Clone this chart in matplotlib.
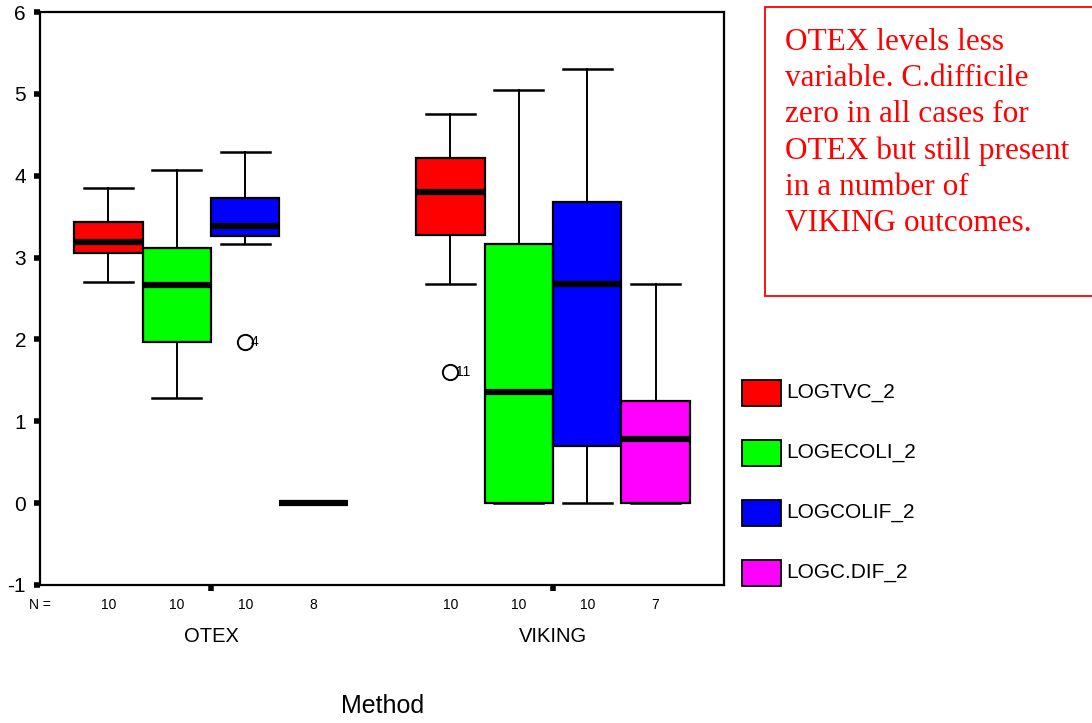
import numpy as np
import matplotlib
matplotlib.use("Agg")
import matplotlib.pyplot as plt
from matplotlib.patches import Rectangle
import matplotlib.transforms as mtransforms

plt.rcParams['font.family'] = ['Liberation Sans', 'DejaVu Sans']
plt.rcParams['axes.unicode_minus'] = False

# data (log counts)
methods = ["OTEX", "VIKING"]
series = ["LOGTVC_2", "LOGECOLI_2", "LOGCOLIF_2", "LOGC.DIF_2"]
colors = ["#ff0000", "#00ff00", "#0000ff", "#ff00ff"]
counts = [10, 10, 10, 8, 10, 10, 10, 7]

whislo = [2.70, 1.29, 3.17, 0.0, 2.68, 0.0, 0.0, 0.0]
q1 = [3.05, 1.97, 3.26, 0.0, 3.27, 0.0, 0.70, 0.0]
med = [3.19, 2.66, 3.38, 0.0, 3.80, 1.36, 2.68, 0.78]
q3 = [3.44, 3.12, 3.73, 0.0, 4.22, 3.17, 3.68, 1.25]
whishi = [3.85, 4.07, 4.29, 0.0, 4.76, 5.05, 5.30, 2.68]
fliers = [[], [], [1.97], [], [1.60], [], [], []]
flier_ids = [[], [], ["4"], [], ["11"], [], [], []]

note = ("OTEX levels less\nvariable. C.difficile\nzero in all cases for\n"
        "OTEX but still present\nin a number of\nVIKING outcomes.")

W, H = 1092, 723
fig = plt.figure(figsize=(W / 100, H / 100), dpi=100)
ax = fig.add_axes([40 / W, (H - 585) / H, 684 / W, 573 / H])

positions = [0, 1, 2, 3, 5, 6, 7, 8]
stats = []
for i in range(len(positions)):
    stats.append(dict(whislo=whislo[i], q1=q1[i], med=med[i], q3=q3[i],
                      whishi=whishi[i], fliers=fliers[i]))

bp = ax.bxp(stats, positions=positions, widths=1.0, capwidths=0.72,
            patch_artist=True, showfliers=True,
            boxprops=dict(edgecolor="black", linewidth=1.6),
            whiskerprops=dict(color="black", linewidth=1.4),
            capprops=dict(color="black", linewidth=1.8),
            medianprops=dict(color="black", linewidth=4.5, solid_capstyle="butt"),
            flierprops=dict(marker="o", markerfacecolor="none",
                            markeredgecolor="black", markersize=11,
                            markeredgewidth=1.4))
for i, box in enumerate(bp["boxes"]):
    box.set_facecolor(colors[i % 4])

# outlier case numbers
for p, fl, ids in zip(positions, fliers, flier_ids):
    for v, s in zip(fl, ids):
        ax.annotate(s, (p, v), xytext=(4, 0), textcoords="offset points",
                    ha="left", va="center", fontsize=10)

ax.set_xlim(-1, 9)
ax.set_ylim(-1, 6)
ax.set_yticks(range(-1, 7))
ax.tick_params(axis="y", direction="out", length=4, width=4, pad=6,
               labelsize=15)
ax.set_xticks([1.5, 6.5])
ax.set_xticklabels([])
ax.tick_params(axis="x", direction="out", length=4, width=4)
for sp in ax.spines.values():
    sp.set_linewidth(1.6)

# N counts and group labels under the axis
trans = mtransforms.blended_transform_factory(ax.transData, fig.transFigure)
ax.text(-1, 1 - 605 / H, "N =", transform=trans, ha="center", va="center",
        fontsize=10)
for p, n in zip(positions, counts):
    ax.text(p, 1 - 605 / H, str(n), transform=trans, ha="center",
            va="center", fontsize=10)
for p, m in zip([1.5, 6.5], methods):
    ax.text(p, 1 - 637 / H, m, transform=trans, ha="center", va="center",
            fontsize=14.5)
fig.text(383 / W, 1 - 706 / H, "Method", ha="center", va="center",
         fontsize=18)

# legend drawn by hand to sit where the original does
for k, (lab, c) in enumerate(zip(series, colors)):
    yc = 393 + 60 * k
    fig.patches.append(Rectangle((742 / W, 1 - (yc + 13) / H), 39 / W, 26 / H,
                                 transform=fig.transFigure, facecolor=c,
                                 edgecolor="black", linewidth=1.3))
    fig.text(786 / W, 1 - yc / H, lab, ha="left", va="center", fontsize=15)

# red note box
fig.patches.append(Rectangle((765 / W, 1 - 296 / H), 330 / W, 289 / H,
                             transform=fig.transFigure, facecolor="white",
                             edgecolor="#ff0000", linewidth=1.3))
fig.text(785 / W, 1 - 28 / H, note, ha="left", va="top", color="#ff0000",
         fontsize=22.5, family="Liberation Serif", linespacing=1.32)

fig.savefig("out.png", dpi=100)
